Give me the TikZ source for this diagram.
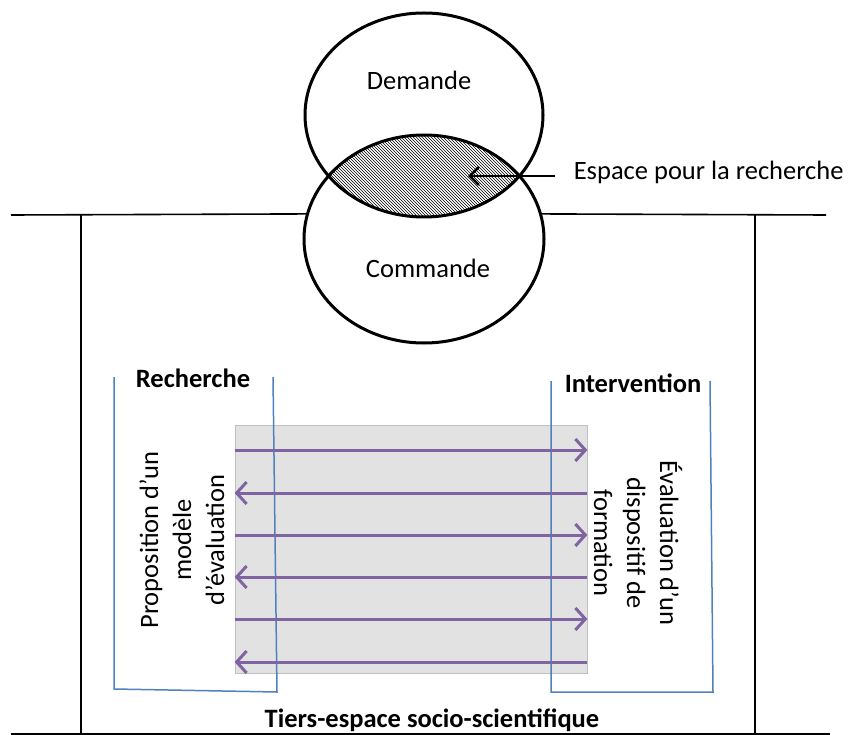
\documentclass[tikz,border=0pt]{standalone}
\usepackage{fontspec}
\setmainfont{Carlito}
\usetikzlibrary{shapes.geometric,arrows.meta,patterns}
\definecolor{bracketblue}{HTML}{4F81BD}
\definecolor{flowpurple}{HTML}{8064A2}
\definecolor{panelgray}{HTML}{E2E2E2}

\tikzset{
  txt/.style={font=\fontsize{26.5}{33}\selectfont, inner sep=2pt},
  bold/.style={txt, font=\fontsize{26.5}{33}\selectfont\bfseries},
  oval/.style={ellipse, draw, line width=3pt, inner sep=0pt},
  bracket/.style={draw=bracketblue, line width=1.5pt},
  flow/.style={draw=flowpurple, line width=3pt, -{Straight Barb[length=10pt,width=22pt]}},
  pointer/.style={line width=2.5pt, -{Straight Barb[length=9pt,width=18pt]}}
}

\begin{document}
\begin{tikzpicture}[x=1pt, y=-1pt, line width=1.6pt]
\useasboundingbox (0,0) rectangle (851,735);

\begin{scope}
  \clip (424,115) ellipse [x radius=119pt, y radius=102pt];
  \fill[pattern=north west lines] (424,239) ellipse [x radius=120pt, y radius=104pt];
\end{scope}

\node[oval, minimum width=238pt, minimum height=204pt] (ellD) at (424,115) {};
\node[oval, minimum width=240pt, minimum height=208pt] (ellC) at (424,239) {};

\node[txt] (demande) at (419,80) {Demande};
\node[txt] (commande) at (428,268) {Commande};
\node[txt, anchor=west] (espace) at (571,172) {Espace pour la recherche};

\coordinate (tail) at (555,176);
\coordinate (lens) at (468,176);
\draw[pointer] (tail) -- (lens);

\draw (11,215) -- (ellC.168);
\draw (ellC.12) -- (826,215);
\draw (81,215) -- (81,734);
\draw (755,215) -- (755,734);
\draw (11,734) -- (830,734);

\node[draw=panelgray!85!black, fill=panelgray, line width=0.8pt,
      minimum width=352pt, minimum height=248pt] (panel) at (411,549) {};

\draw[bracket] (114,377) -- (114,689) -- (277,692) -- (273,377);
\draw[bracket] (551,381) -- (551,692) -- (713,692) -- (710,381);

\foreach \y in {450,535,619}
  \draw[flow] (panel.west |- 0,\y) -- (panel.east |- 0,\y);
\foreach \y in {493,577,662}
  \draw[flow] (panel.east |- 0,\y) -- (panel.west |- 0,\y);

\node[bold] (recherche) at (193,378) {Recherche};
\node[bold] (intervention) at (633,383) {Intervention};
\node[bold] (tiers) at (432,720) {Tiers-espace socio-scientifique};

\node[txt, rotate=90, align=center] (proposition) at (182,540)
  {Proposition d’un\\modèle\\d’évaluation};
\node[txt, rotate=-90, align=center] (evaluation) at (638,543)
  {Évaluation d’un\\dispositif de\\formation};

\end{tikzpicture}
\end{document}
